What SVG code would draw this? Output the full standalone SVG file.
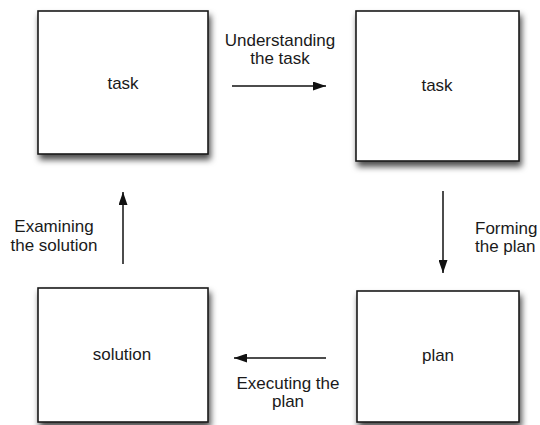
<svg xmlns="http://www.w3.org/2000/svg" width="540" height="425" viewBox="0 0 540 425">
<style>
.box{fill:#fff;stroke:#1a1a1a;stroke-width:1.6;filter:url(#sh)}
.t{font-family:"Liberation Sans",Arial,sans-serif;font-size:17px;fill:#1a1a1a;text-anchor:middle}
.s{text-anchor:start}
.c{stroke:#111;stroke-width:1.5;fill:none;marker-end:url(#ah)}
</style>
<defs>
<filter id="sh" x="-10%" y="-10%" width="130%" height="130%">
<feDropShadow dx="2" dy="5" stdDeviation="3" flood-color="#000" flood-opacity="0.7"/>
</filter>
<marker id="ah" viewBox="0 0 13 9" refX="13" refY="4.5" markerWidth="13" markerHeight="9" markerUnits="userSpaceOnUse" orient="auto">
<path d="M0,0 L13,4.5 L0,9 Z" fill="#111"/>
</marker>
</defs>
<rect width="540" height="425" fill="#fff"/>
<g id="node-task1">
<rect class="box" x="38" y="11" width="170" height="143"/>
<text class="t" x="123" y="89">task</text>
</g>
<g id="node-task2">
<rect class="box" x="356" y="11" width="163" height="150"/>
<text class="t" x="437" y="91">task</text>
</g>
<g id="node-plan">
<rect class="box" x="357" y="291" width="162" height="131"/>
<text class="t" x="438" y="361">plan</text>
</g>
<g id="node-solution">
<rect class="box" x="38" y="288" width="170" height="134"/>
<text class="t" x="122" y="360">solution</text>
</g>
<g id="connectors">
<line class="c" x1="232" y1="86" x2="326" y2="86"/>
<line class="c" x1="443" y1="191" x2="443" y2="273"/>
<line class="c" x1="326" y1="358" x2="234" y2="358"/>
<line class="c" x1="123" y1="264" x2="123" y2="192"/>
</g>
<g id="labels">
<text class="t" x="280" y="46">Understanding</text>
<text class="t" x="280" y="64">the task</text>
<text class="t s" x="475" y="234">Forming</text>
<text class="t s" x="475" y="252">the plan</text>
<text class="t" x="288" y="389">Executing the</text>
<text class="t" x="288" y="407">plan</text>
<text class="t" x="54" y="232">Examining</text>
<text class="t" x="54" y="251">the solution</text>
</g>
</svg>
